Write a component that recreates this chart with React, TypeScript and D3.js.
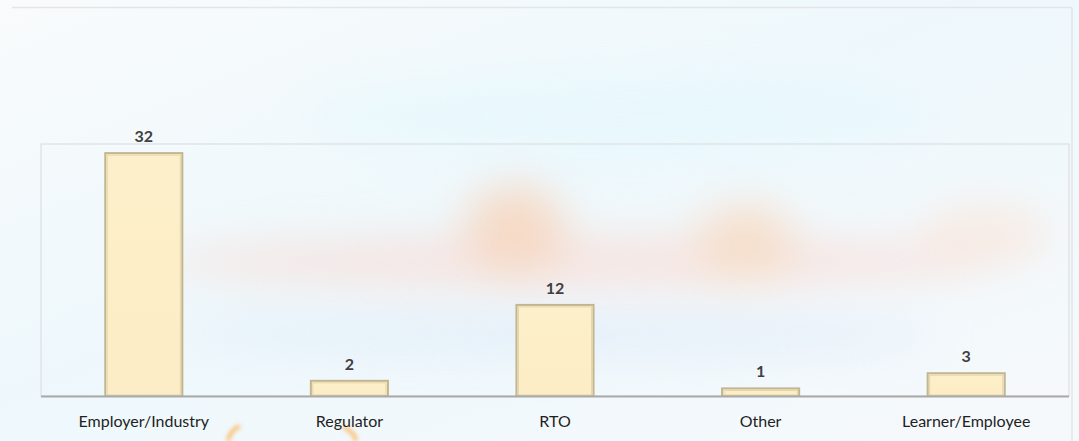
import React from 'react';
import * as d3 from 'd3';

const categories = ['Employer/Industry', 'Regulator', 'RTO', 'Other', 'Learner/Employee'];
const counts = [32, 2, 12, 1, 3];

const W = 1079;
const H = 441;
const plot = { left: 41, right: 1069, top: 144, bottom: 396 };

export default function App() {
  const x = d3
    .scaleBand<string>()
    .domain(categories)
    .range([plot.left, plot.right])
    .paddingInner(0.625)
    .paddingOuter(0.3125);

  const y = d3.scaleLinear().domain([0, 33.2]).range([plot.bottom, plot.top]);

  const font = "Lato, 'Open Sans', 'DejaVu Sans', sans-serif";

  return (
    <svg
      width={W}
      height={H}
      style={{ position: 'absolute', left: 0, top: 0 }}
      viewBox={`0 0 ${W} ${H}`}
    >
      <defs>
        <linearGradient id="bg" x1="0" y1="0" x2="1" y2="1">
          <stop offset="0%" stopColor="#f9fbfc" />
          <stop offset="45%" stopColor="#eef8fc" />
          <stop offset="100%" stopColor="#f6f9fc" />
        </linearGradient>
        <filter id="blur" x="-50%" y="-50%" width="200%" height="200%">
          <feGaussianBlur stdDeviation="22" />
        </filter>
        <filter id="blurS" x="-50%" y="-50%" width="200%" height="200%">
          <feGaussianBlur stdDeviation="2" />
        </filter>
        <linearGradient id="barFill" x1="0" y1="0" x2="0" y2="1">
          <stop offset="0%" stopColor="#fdefc9" />
          <stop offset="100%" stopColor="#fcedc6" />
        </linearGradient>
      </defs>

      <rect x={0} y={0} width={W} height={H} fill="url(#bg)" />

      {/* soft decorative haze */}
      <g filter="url(#blur)" opacity={0.6}>
        <ellipse cx={580} cy={262} rx={420} ry={24} fill="#fbd6cd" />
        <ellipse cx={515} cy={232} rx={50} ry={48} fill="#fbc6a2" />
        <ellipse cx={745} cy={245} rx={50} ry={40} fill="#fbcdab" />
        <ellipse cx={985} cy={235} rx={65} ry={28} fill="#fce0d0" />
        <ellipse cx={560} cy={335} rx={380} ry={18} fill="#d9e7f6" />
        <ellipse cx={620} cy={115} rx={320} ry={40} fill="#e4f8fd" />
      </g>
      <g filter="url(#blurS)" opacity={0.9}>
        <path d="M 228 441 Q 230 430 240 426" stroke="#fbb75b" strokeWidth={4} fill="none" />
        <path d="M 343 427 Q 355 432 356 441" stroke="#fbb75b" strokeWidth={4} fill="none" />
      </g>

      {/* outer frame */}
      <line x1={12} x2={1072} y1={7.5} y2={7.5} stroke="#e3e5e7" strokeWidth={1.5} />
      <line x1={1072} x2={1072} y1={7.5} y2={H} stroke="#e3e5e7" strokeWidth={1.5} />

      {/* plot area border */}
      <rect
        x={plot.left}
        y={plot.top}
        width={plot.right - plot.left}
        height={plot.bottom - plot.top}
        fill="none"
        stroke="#d9dadb"
        strokeWidth={1}
      />

      {categories.map((c, i) => {
        const bx = x(c) ?? 0;
        const top = y(counts[i]);
        const h = plot.bottom - top;
        return (
          <g key={c}>
            <rect
              x={bx}
              y={top}
              width={x.bandwidth()}
              height={h}
              fill="url(#barFill)"
              stroke="#c2b690"
              strokeWidth={2}
            />
            <rect
              x={bx + 2}
              y={top + 2}
              width={Math.max(0, x.bandwidth() - 4)}
              height={Math.max(0, h - 3)}
              fill="none"
              stroke="#e3d6ad"
              strokeWidth={1}
            />
            <text
              x={bx + x.bandwidth() / 2}
              y={top - 11}
              textAnchor="middle"
              fontFamily={font}
              fontWeight={700}
              fontSize={16}
              fill="#404040"
            >
              {counts[i]}
            </text>
            <text
              x={bx + x.bandwidth() / 2}
              y={427}
              textAnchor="middle"
              fontFamily={font}
              fontSize={16}
              fill="#1f1f1f"
            >
              {c}
            </text>
          </g>
        );
      })}

      {/* category axis */}
      <line
        x1={plot.left}
        x2={plot.right}
        y1={plot.bottom + 0.5}
        y2={plot.bottom + 0.5}
        stroke="#aaaaaa"
        strokeWidth={2}
      />
    </svg>
  );
}
